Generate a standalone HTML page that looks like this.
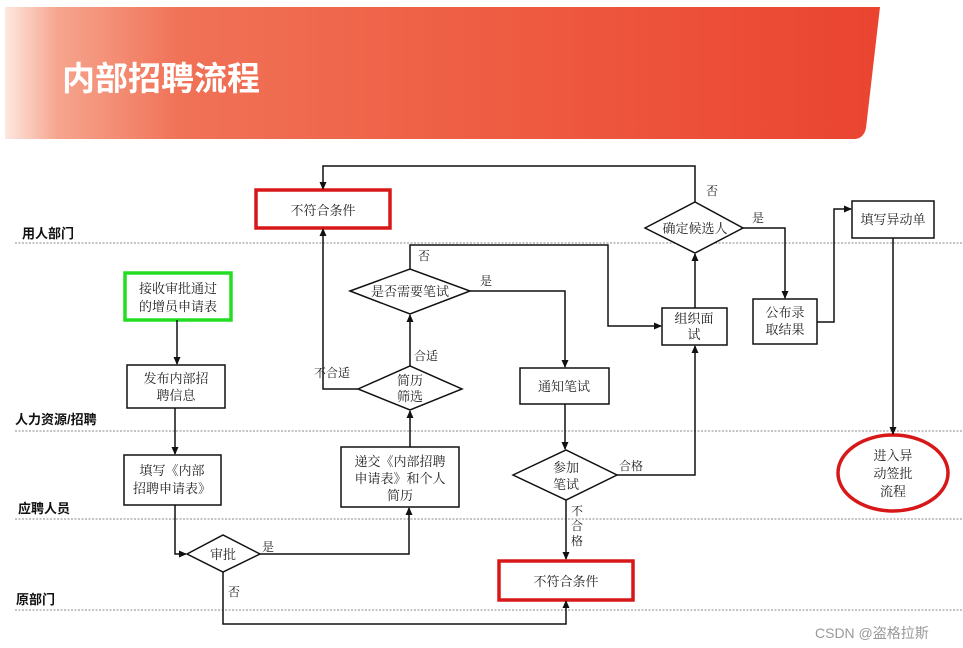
<!DOCTYPE html>
<html><head><meta charset="utf-8"><style>
html,body{margin:0;padding:0;background:#fff;}
svg{display:block;font-family:"Liberation Serif","Noto Serif CJK SC",serif;}
</style></head><body>
<svg width="963" height="648" viewBox="0 0 963 648" xmlns="http://www.w3.org/2000/svg">
<defs>
<linearGradient id="g" x1="0" x2="1" y1="0" y2="0">
<stop offset="0" stop-color="#fde8e0"/>
<stop offset="0.06" stop-color="#f6a58e"/>
<stop offset="0.2" stop-color="#f07257"/>
<stop offset="0.6" stop-color="#ee5a40"/>
<stop offset="1" stop-color="#ea4430"/>
</linearGradient>
<marker id="a" markerWidth="8" markerHeight="8" refX="7" refY="4" orient="auto" markerUnits="userSpaceOnUse"><path d="M0,0.5 L8,4 L0,7.5 z" fill="#111"/></marker>
</defs>
<path d="M5,7 L880,7 L866,128 Q864,138 855,139 L5,139 z" fill="url(#g)"/>
<text x="62" y="90" fill="#fff" font-size="33" font-weight="bold" font-family="'Liberation Sans','Noto Sans CJK SC',sans-serif">内部招聘流程</text>

<g stroke="#888" stroke-width="1" stroke-dasharray="2,1.5">
<line x1="15" y1="243" x2="963" y2="243"/>
<line x1="15" y1="431" x2="963" y2="431"/>
<line x1="15" y1="519" x2="963" y2="519"/>
<line x1="15" y1="610" x2="963" y2="610"/>
</g>
<g font-size="13" font-weight="bold" fill="#111" font-family="'Liberation Sans','Noto Sans CJK SC',sans-serif">
<text x="22" y="238">用人部门</text>
<text x="15" y="424">人力资源/招聘</text>
<text x="18" y="513">应聘人员</text>
<text x="16" y="604">原部门</text>
</g>

<g fill="#fff" stroke="#111" stroke-width="1.5">
<rect x="127" y="365" width="98" height="43"/>
<rect x="124" y="455" width="97" height="50"/>
<rect x="341" y="447" width="118" height="60"/>
<rect x="520" y="368" width="89" height="36"/>
<rect x="662" y="308" width="65" height="37"/>
<rect x="753" y="299" width="64" height="45"/>
<rect x="852" y="201" width="82" height="37"/>
<polygon points="187,554 223,535 260,554 223,572"/>
<polygon points="358,389 410,366 462,389 410,410"/>
<polygon points="350,291 410,269 470,291 410,314"/>
<polygon points="513,475 566,450 617,475 566,500"/>
<polygon points="645,228 695,202 743,228 695,253"/>
</g>
<rect x="256" y="190" width="134" height="38" fill="#fff" stroke="#d81818" stroke-width="3.5"/>
<rect x="499" y="561" width="134" height="39" fill="#fff" stroke="#d81818" stroke-width="3.5"/>
<rect x="125" y="273" width="106" height="47" fill="#fff" stroke="#22dd22" stroke-width="3.5"/>
<ellipse cx="893" cy="473" rx="55" ry="38" fill="#fff" stroke="#d81818" stroke-width="3.5"/>

<g fill="none" stroke="#111" stroke-width="1.5" marker-end="url(#a)">
<polyline points="695,202 695,166 323,166 323,189"/>
<polyline points="358,389 323,389 323,229"/>
<polyline points="410,366 410,315"/>
<polyline points="410,269 410,245 608,245 608,326 661,326"/>
<polyline points="470,291 565,291 565,367"/>
<polyline points="565,404 565,449"/>
<polyline points="617,475 695,475 695,346"/>
<polyline points="695,308 695,254"/>
<polyline points="566,500 566,559"/>
<polyline points="743,228 785,228 785,298"/>
<polyline points="817,322 834,322 834,209 851,209"/>
<polyline points="893,238 893,434"/>
<polyline points="177,320 177,364"/>
<polyline points="175,408 175,454"/>
<polyline points="175,505 175,554 186,554"/>
<polyline points="260,554 409,554 409,508"/>
<polyline points="223,572 223,624 566,624 566,601"/>
<polyline points="410,447 410,411"/>
</g>

<g font-size="13" fill="#222" text-anchor="middle">
<text x="323" y="215">不符合条件</text>
<text x="566" y="586">不符合条件</text>
<text x="178" y="293">接收审批通过</text>
<text x="178" y="311">的增员申请表</text>
<text x="176" y="383">发布内部招</text>
<text x="176" y="400">聘信息</text>
<text x="172" y="475">填写《内部</text>
<text x="172" y="493">招聘申请表》</text>
<text x="400" y="466">递交《内部招聘</text>
<text x="400" y="483">申请表》和个人</text>
<text x="400" y="500">简历</text>
<text x="223" y="559">审批</text>
<text x="410" y="385">简历</text>
<text x="410" y="401">筛选</text>
<text x="410" y="296">是否需要笔试</text>
<text x="564" y="391">通知笔试</text>
<text x="566" y="472">参加</text>
<text x="566" y="489">笔试</text>
<text x="694" y="323">组织面</text>
<text x="694" y="339">试</text>
<text x="695" y="233">确定候选人</text>
<text x="785" y="317">公布录</text>
<text x="785" y="334">取结果</text>
<text x="893" y="224">填写异动单</text>
<text x="893" y="460">进入异</text>
<text x="893" y="478">动签批</text>
<text x="893" y="496">流程</text>
</g>
<g font-size="12" fill="#222">
<text x="706" y="195">否</text>
<text x="752" y="222">是</text>
<text x="418" y="260">否</text>
<text x="480" y="285">是</text>
<text x="414" y="360">合适</text>
<text x="314" y="377">不合适</text>
<text x="619" y="470">合格</text>
<text x="571" y="515">不</text>
<text x="571" y="530">合</text>
<text x="571" y="545">格</text>
<text x="262" y="551">是</text>
<text x="228" y="596">否</text>
</g>
<text x="815" y="638" font-size="14" fill="#999" font-family="'Liberation Sans','Noto Sans CJK SC',sans-serif">CSDN @盗格拉斯</text>
</svg>
</body></html>
